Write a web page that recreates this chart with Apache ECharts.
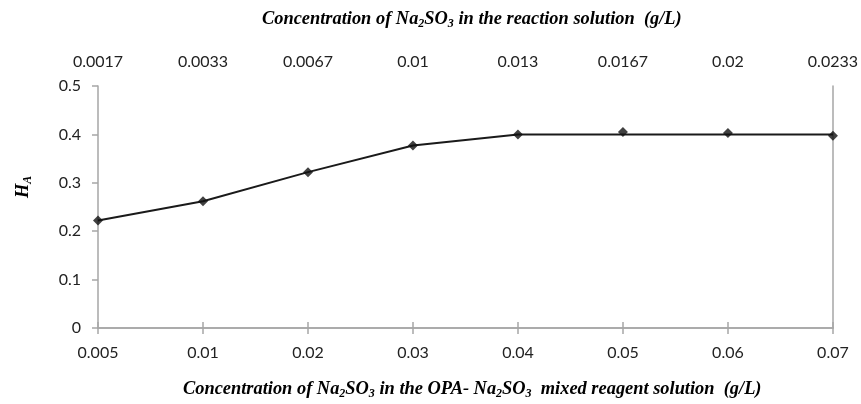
<!DOCTYPE html>
<html><head><meta charset="utf-8">
<script src="https://cdn.jsdelivr.net/npm/echarts@6/dist/echarts.min.js"></script>
<style>html,body{margin:0;padding:0;background:#fff}#c{width:861px;height:404px}</style>
</head><body><div id="c"></div>
<script>
const bottomCategories = ['0.005','0.01','0.02','0.03','0.04','0.05','0.06','0.07'];
const topCategories = ['0.0017','0.0033','0.0067','0.01','0.013','0.0167','0.02','0.0233'];
const measuredHA = [0.222, 0.262, 0.322, 0.377, 0.400, 0.405, 0.403, 0.397];
const fittedLine = [0.222, 0.262, 0.322, 0.377, 0.400, 0.400, 0.400, 0.400];
const yTicks = [0, 0.1, 0.2, 0.3, 0.4, 0.5];

const chart = echarts.init(document.getElementById('c'));
const axisColor = '#a6a6a6';
const lblFont = {fontFamily: 'Lato', fontSize: 16, color: '#222'};
const richT = {
  t: {fontFamily: 'Liberation Serif', fontStyle: 'italic', fontWeight: 'bold', fontSize: 18.4, color: '#111'},
  s: {fontFamily: 'Liberation Serif', fontStyle: 'italic', fontWeight: 'bold', fontSize: 12, color: '#111', padding: [10, 0, 0, 0]}
};
chart.setOption({
  animation: false,
  grid: {left: 98, right: 25, top: 86, bottom: 76},
  xAxis: [
    {type: 'category', data: bottomCategories, boundaryGap: false, position: 'bottom',
     axisLine: {lineStyle: {color: axisColor, width: 1.5}},
     axisTick: {alignWithLabel: true, length: 6, lineStyle: {color: axisColor, width: 1.5}},
     axisLabel: Object.assign({margin: 17}, lblFont)},
    {type: 'category', data: topCategories, boundaryGap: false, position: 'top',
     axisLine: {lineStyle: {color: axisColor, width: 1.5}},
     axisTick: {alignWithLabel: true, length: 6, lineStyle: {color: axisColor, width: 1.5}},
     axisLabel: Object.assign({margin: 16}, lblFont)}
  ],
  yAxis: [
    {type: 'value', min: yTicks[0], max: yTicks[yTicks.length-1], interval: 0.1,
     axisLine: {show: true, lineStyle: {color: axisColor, width: 1.5}},
     axisTick: {show: true, length: 6, lineStyle: {color: axisColor, width: 1.5}},
     splitLine: {show: false},
     axisLabel: Object.assign({margin: 17}, lblFont)},
    {type: 'value', min: 0, max: 0.5, interval: 0.1, position: 'right',
     axisLine: {show: true, lineStyle: {color: axisColor, width: 1.5}},
     axisTick: {show: false}, splitLine: {show: false}, axisLabel: {show: false}}
  ],
  series: [
    {type: 'line', data: fittedLine, symbol: 'none', lineStyle: {color: '#1a1a1a', width: 2}, z: 2},
    {type: 'scatter', data: measuredHA, symbol: 'diamond', symbolSize: 10, itemStyle: {color: '#111'}, z: 3}
  ],
  graphic: [
    {type: 'text', left: 262, top: 10, style: {text: '{t|Concentration of Na}{s|2}{t|SO}{s|3}{t| in the reaction solution  (g/L)}', rich: richT}},
    {type: 'text', left: 183, top: 380, style: {text: '{t|Concentration of Na}{s|2}{t|SO}{s|3}{t| in the OPA- Na}{s|2}{t|SO}{s|3}{t|  mixed reagent solution  (g/L)}', rich: richT}},
    {type: 'text', x: 12, y: 198, rotation: Math.PI/2, style: {text: '{t|H}{s|A}', rich: richT}}
  ]
});
</script></body></html>
